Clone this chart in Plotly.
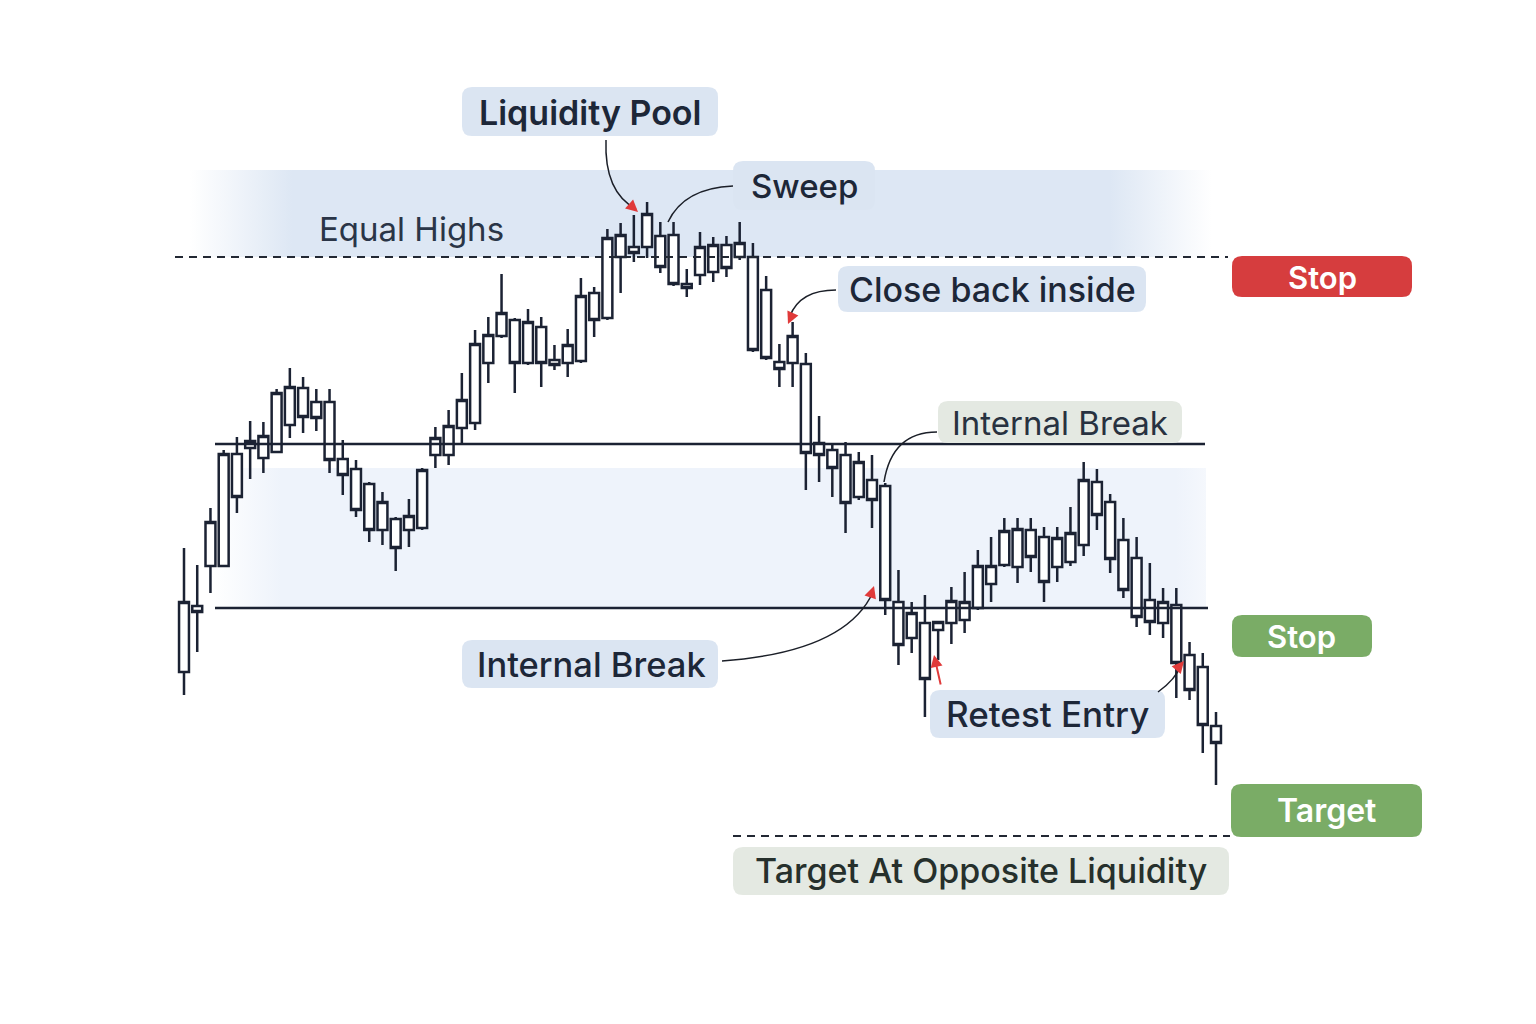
import plotly.graph_objects as go

# ---------------- data (price units) ----------------
bar_index = list(range(79))
open_ = [352, 418, 458, 458, 570, 576, 566, 572, 599, 636,
         622, 622, 565, 555, 540, 494, 505, 494, 496, 569,
         569, 596, 601, 661, 688, 704, 661, 697, 664, 661,
         663, 731, 706, 767, 777, 777, 788, 789, 740, 749,
         752, 779, 767, 767, 734, 662, 661, 660, 581, 574,
         569, 527, 544, 538, 422, 386, 401, 394, 401, 404,
         416, 440, 459, 457, 494, 487, 457, 462, 479, 542,
         522, 484, 466, 424, 401, 419, 369, 357, 298]
close = [422, 412, 502, 570, 527, 583, 588, 631, 637, 607,
         606, 564, 549, 514, 494, 522, 476, 508, 554, 586,
         598, 624, 680, 689, 711, 661, 702, 661, 659, 679,
         728, 704, 786, 789, 771, 810, 757, 740, 736, 777,
         779, 756, 781, 674, 666, 655, 688, 571, 569, 556,
         521, 562, 524, 424, 379, 411, 345, 402, 423, 422,
         458, 458, 493, 495, 467, 442, 486, 491, 544, 509,
         465, 434, 407, 402, 422, 361, 334, 299, 281]
high = [476, 459, 516, 574, 587, 603, 602, 635, 656, 647,
        635, 635, 584, 564, 542, 532, 507, 525, 556, 597,
        614, 651, 694, 707, 750, 706, 715, 707, 679, 695,
        746, 737, 795, 801, 809, 822, 802, 802, 755, 792,
        787, 788, 802, 781, 748, 680, 702, 671, 608, 580,
        582, 572, 569, 541, 454, 422, 429, 402, 437, 452,
        474, 487, 506, 506, 506, 497, 497, 517, 562, 555,
        530, 506, 487, 461, 436, 436, 382, 371, 312]
low = [329, 372, 431, 458, 511, 545, 551, 571, 586, 591,
       593, 551, 529, 507, 482, 479, 453, 477, 494, 556,
       559, 579, 594, 641, 686, 631, 659, 637, 654, 647,
       661, 687, 704, 731, 762, 766, 751, 738, 727, 739,
       742, 747, 764, 672, 664, 637, 637, 534, 542, 527,
       491, 524, 496, 409, 359, 371, 307, 364, 380, 391,
       414, 422, 457, 441, 452, 422, 442, 458, 468, 494,
       451, 426, 397, 389, 386, 326, 324, 271, 239]

equal_highs_level = 767
internal_break_high = 580
internal_break_low = 416
target_level = 188

# ---------------- styling ----------------
INK = "#1b2233"
TEXT = "#1d2738"
BLUE_BOX = "#dbe5f2"
GREY_BOX = "#e4e9e2"
RED = "#d63d3e"
GREEN = "#7aac66"
FONT = "Inter"

fig = go.Figure()

# background bands (canvas axes x / y, drawn underneath)
fig.add_trace(go.Scatter(
    x=[190, 1212, 1212, 190, 190], y=[170, 170, 257, 257, 170],
    mode="lines", line=dict(width=0),
    fill="toself",
    fillgradient=dict(type="horizontal", colorscale=[
        [0, "rgba(221,231,244,0)"], [0.1, "rgba(221,231,244,1)"],
        [0.9, "rgba(221,231,244,1)"], [1, "rgba(221,231,244,0)"]]),
    hoverinfo="skip", showlegend=False))
fig.add_trace(go.Scatter(
    x=[212, 1206, 1206, 212, 212], y=[468, 468, 607, 607, 468],
    mode="lines", line=dict(width=0),
    fill="toself",
    fillgradient=dict(type="horizontal", colorscale=[
        [0, "rgba(238,243,251,0)"], [0.07, "rgba(238,243,251,1)"],
        [0.97, "rgba(238,243,251,1)"], [1, "rgba(238,243,251,0.6)"]]),
    hoverinfo="skip", showlegend=False))

# candles on the overlaid price axes
fig.add_trace(go.Candlestick(
    x=bar_index, open=open_, high=high, low=low, close=close,
    xaxis="x2", yaxis="y2",
    increasing=dict(line=dict(color=INK, width=2.5), fillcolor="white"),
    decreasing=dict(line=dict(color=INK, width=2.5), fillcolor="white"),
    whiskerwidth=0, hoverinfo="skip", showlegend=False))

step = (1216 - 184) / 78
x0 = -184 / step
x1 = (1536 - 184) / step

shapes = []
# level lines
shapes.append(dict(type="line", xref="x", yref="y2", x0=175, x1=1228,
                   y0=equal_highs_level, y1=equal_highs_level,
                   line=dict(color="#222833", width=1.8, dash="8px,6px")))
shapes.append(dict(type="line", xref="x", yref="y2", x0=215, x1=1205,
                   y0=internal_break_high, y1=internal_break_high,
                   line=dict(color=INK, width=2.6)))
shapes.append(dict(type="line", xref="x", yref="y2", x0=215, x1=1208,
                   y0=internal_break_low, y1=internal_break_low,
                   line=dict(color=INK, width=2.6)))
shapes.append(dict(type="line", xref="x", yref="y2", x0=733, x1=1230,
                   y0=target_level, y1=target_level,
                   line=dict(color="#222833", width=1.8, dash="8px,6px")))


def rbox(xa, ya, xb, yb, r, color):
    p = (f"M {xa+r},{ya} L {xb-r},{ya} Q {xb},{ya} {xb},{ya+r} "
         f"L {xb},{yb-r} Q {xb},{yb} {xb-r},{yb} L {xa+r},{yb} "
         f"Q {xa},{yb} {xa},{yb-r} L {xa},{ya+r} Q {xa},{ya} {xa+r},{ya} Z")
    return dict(type="path", xref="x", yref="y", path=p,
                fillcolor=color, line=dict(width=0), layer="above")


boxes = [
    (462, 87, 718, 136, BLUE_BOX),
    (733, 161, 875, 210, BLUE_BOX),
    (838, 266, 1146, 312, BLUE_BOX),
    (938, 401, 1182, 443, GREY_BOX),
    (462, 640, 718, 688, BLUE_BOX),
    (930, 690, 1165, 738, BLUE_BOX),
    (733, 847, 1229, 895, GREY_BOX),
    (1232, 256, 1412, 297, RED),
    (1232, 615, 1372, 657, GREEN),
    (1231, 784, 1422, 837, GREEN),
]
for b in boxes:
    shapes.append(rbox(b[0], b[1], b[2], b[3], 10, b[4]))

# connector curves
curves = [
    "M 606,140 Q 604,192 636,209",
    "M 733,186 Q 684,188 668,222",
    "M 836,290 Q 800,290 790,316",
    "M 937,432 Q 892,432 884,482",
    "M 722,661 Q 846,652 873,592",
    "M 1158,692 Q 1175,680 1182,664",
]
for c in curves:
    shapes.append(dict(type="path", xref="x", yref="y", path=c,
                       line=dict(color="#1b1f28", width=1.5), layer="above"))

annotations = []


def label(x, y, text, size, color, weight):
    annotations.append(dict(x=x, y=y, xref="x", yref="y", text=text,
                            showarrow=False, xanchor="center", yanchor="middle",
                            font=dict(family=FONT, size=size, color=color, weight=weight)))


label(590, 112, "Liquidity Pool", 34, TEXT, 600)
label(804, 186, "Sweep", 33, TEXT, 500)
label(411, 229, "Equal Highs", 33, "#2a3547", 400)
label(992, 289, "Close back inside", 34, TEXT, 500)
label(1060, 423, "Internal Break", 33, "#283240", 400)
label(591, 664, "Internal Break", 34.5, TEXT, 500)
label(1047, 714, "Retest Entry", 35, TEXT, 500)
label(981, 870, "Target At Opposite Liquidity", 34, "#26302c", 500)
label(1322, 277, "Stop", 31, "white", 600)
label(1301, 636, "Stop", 31, "white", 600)
label(1326, 810, "Target", 32, "white", 600)

# red arrow heads
heads = [
    (638, 212, 628, 203),
    (788, 324, 792, 315),
    (874, 586, 871, 595),
    (1184, 661, 1178, 668),
    (934, 655, 941, 686),
]
for hx, hy, tx, ty in heads:
    annotations.append(dict(x=hx, y=hy, ax=tx, ay=ty, xref="x", yref="y",
                            axref="x", ayref="y", text="", showarrow=True,
                            arrowhead=2, arrowsize=1.2, arrowwidth=2,
                            arrowcolor="#e03a3a"))

fig.update_layout(
    width=1536, height=1024,
    margin=dict(l=0, r=0, t=0, b=0),
    paper_bgcolor="white", plot_bgcolor="white",
    shapes=shapes, annotations=annotations,
    showlegend=False, boxgap=0.25, boxgroupgap=0,
    xaxis=dict(range=[0, 1536], visible=False, fixedrange=True),
    yaxis=dict(range=[1024, 0], visible=False, fixedrange=True),
    xaxis2=dict(range=[x0, x1], overlaying="x", visible=False,
                rangeslider=dict(visible=False), fixedrange=True),
    yaxis2=dict(range=[0, 1024], overlaying="y", visible=False, fixedrange=True),
)

fig.write_html("out.html")
